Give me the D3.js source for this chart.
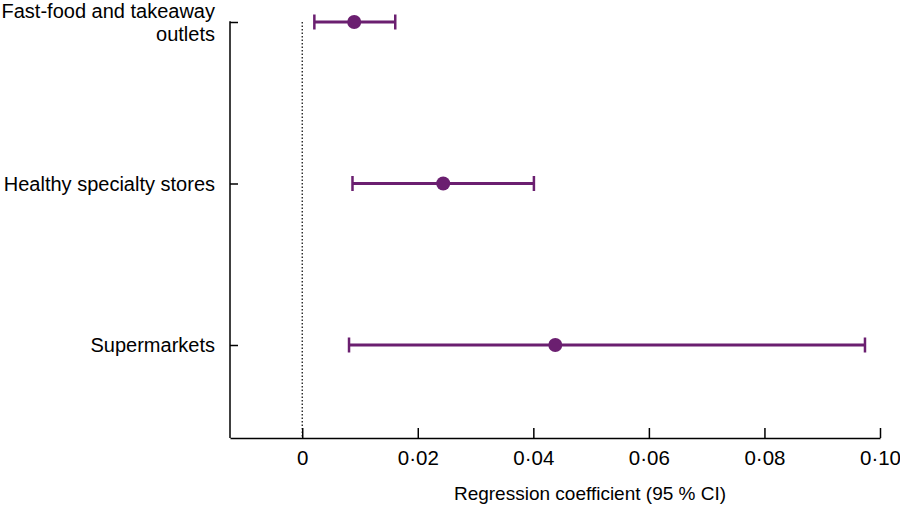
<!DOCTYPE html>
<html>
<head>
<meta charset="utf-8">
<script src="https://cdn.jsdelivr.net/npm/d3@7"></script>
<style>
  body { margin: 0; background: #fff; }
  text { font-family: "Liberation Sans", Arial, sans-serif; fill: #000; }
</style>
</head>
<body>
<script>
//data
var categories = ["Fast-food and takeaway outlets", "Healthy specialty stores", "Supermarkets"];
var labelLines = [["Fast-food and takeaway", "outlets"], ["Healthy specialty stores"], ["Supermarkets"]];
var estimates = [0.0090, 0.0244, 0.0438];
var lowerCI = [0.0021, 0.0087, 0.0081];
var upperCI = [0.0161, 0.0401, 0.0974];
var xTicks = [0, 0.02, 0.04, 0.06, 0.08, 0.10];
var xTickLabels = ["0", "0·02", "0·04", "0·06", "0·08", "0·10"];

var w = 900, h = 506;
var purple = "#6b1f70";

var svg = d3.select("body").append("svg")
    .attr("width", w)
    .attr("height", h);

//scales
var x = d3.scaleLinear().domain([-0.0125, 0.10]).range([230, 880]);
var y = d3.scalePoint().domain(categories).range([22, 345]);
var axisY = 438;

//x axis, ticks point inward
var xAxis = d3.axisBottom(x)
    .tickValues(xTicks)
    .tickFormat(function(d, i){ return xTickLabels[i]; })
    .tickSizeInner(-10)
    .tickSizeOuter(0)
    .tickPadding(12);

var gx = svg.append("g")
    .attr("transform", "translate(0," + axisY + ")")
    .call(xAxis);
gx.select(".domain").attr("stroke", "#000").attr("stroke-width", 1.5);
gx.selectAll(".tick line").attr("stroke", "#000").attr("stroke-width", 1.5);
gx.selectAll(".tick text")
    .style("font-family", "'Liberation Sans', Arial, sans-serif")
    .style("font-size", "20.5px")
    .attr("fill", "#000");

//y axis spine with inward ticks
var yAxis = d3.axisLeft(y).tickSizeInner(-8).tickSizeOuter(0).tickFormat("");
var gy = svg.append("g")
    .attr("transform", "translate(230,0)")
    .call(yAxis);
gy.select(".domain").remove();
gy.selectAll(".tick line").attr("stroke", "#000").attr("stroke-width", 1.5);
svg.append("line")
    .attr("x1", 230).attr("x2", 230)
    .attr("y1", y(categories[0]) - 0.75).attr("y2", axisY)
    .attr("stroke", "#000").attr("stroke-width", 1.5);

//category labels
var labels = svg.selectAll(".catLabel")
    .data(categories)
    .enter().append("text")
    .attr("class", "catLabel")
    .attr("text-anchor", "end")
    .style("font-size", "20px")
    .attr("y", function(d, i){
        var n = labelLines[i].length;
        return y(d) - (n - 1) * 11.5 + 7;
    });
labels.selectAll("tspan")
    .data(function(d, i){ return labelLines[i]; })
    .enter().append("tspan")
    .attr("x", 215)
    .attr("dy", function(d, i){ return i === 0 ? 0 : 23; })
    .text(function(d){ return d; });

//dotted zero line
svg.append("line")
    .attr("x1", x(0)).attr("x2", x(0))
    .attr("y1", y(categories[0])).attr("y2", axisY)
    .attr("stroke", "#000")
    .attr("stroke-width", 1.2)
    .attr("stroke-dasharray", "1.5,2");

//error bars
var bars = svg.selectAll(".ci")
    .data(categories)
    .enter().append("g")
    .attr("class", "ci");

bars.append("line")
    .attr("x1", function(d, i){ return x(lowerCI[i]); })
    .attr("x2", function(d, i){ return x(upperCI[i]); })
    .attr("y1", function(d){ return y(d); })
    .attr("y2", function(d){ return y(d); })
    .attr("stroke", purple).attr("stroke-width", 3);

[lowerCI, upperCI].forEach(function(arr){
    bars.append("line")
        .attr("x1", function(d, i){ return x(arr[i]); })
        .attr("x2", function(d, i){ return x(arr[i]); })
        .attr("y1", function(d){ return y(d) - 7.5; })
        .attr("y2", function(d){ return y(d) + 7.5; })
        .attr("stroke", purple).attr("stroke-width", 2.5);
});

bars.append("circle")
    .attr("cx", function(d, i){ return x(estimates[i]); })
    .attr("cy", function(d){ return y(d); })
    .attr("r", 7)
    .attr("fill", purple);

//axis title
svg.append("text")
    .attr("x", 590)
    .attr("y", 500)
    .attr("text-anchor", "middle")
    .style("font-size", "19px")
    .text("Regression coefficient (95 % CI)");
</script>
</body>
</html>
